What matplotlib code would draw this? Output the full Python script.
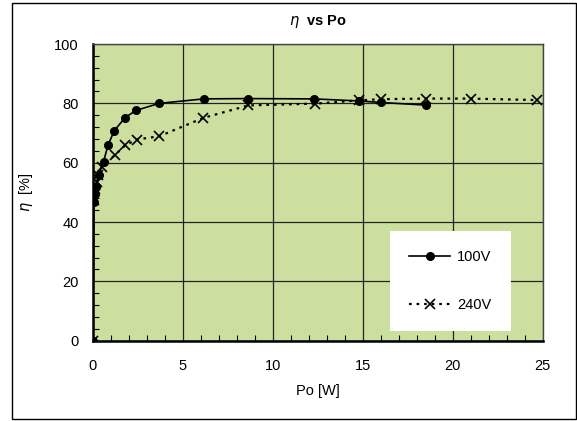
"""Efficiency vs output power, 100V and 240V input."""

import matplotlib.pyplot as plt
from matplotlib.patches import Rectangle
from matplotlib.ticker import MultipleLocator

plt.rcParams["font.family"] = ["Liberation Sans", "DejaVu Sans"]

# output power [W] and efficiency [%]
po_100v = [0.0, 0.07, 0.15, 0.2, 0.33, 0.6, 0.85, 1.2, 1.8, 2.4, 3.7,
           6.17, 8.6, 12.3, 14.8, 16.0, 18.5]
eta_100v = [0.0, 46.8, 49.6, 51.8, 55.8, 60.3, 65.9, 70.8, 75.2, 77.6, 80.0,
            81.5, 81.6, 81.5, 80.8, 80.3, 79.4]

po_240v = [0.0, 0.05, 0.12, 0.22, 0.3, 0.5, 1.22, 1.8, 2.44, 3.7,
           6.15, 8.65, 12.35, 14.8, 16.0, 18.5, 21.0, 24.7]
eta_240v = [0.0, 47.5, 51.0, 53.5, 56.0, 58.6, 62.5, 65.8, 67.8, 68.9,
            75.1, 79.3, 79.9, 81.0, 81.4, 81.6, 81.6, 81.1]

X_TICKS = [0, 5, 10, 15, 20, 25]
Y_TICKS = [0, 20, 40, 60, 80, 100]


def main() -> None:
    fig = plt.figure(figsize=(5.77, 4.21), dpi=100)
    ax = fig.add_axes([92.7 / 577, 1 - 340.7 / 421, 450 / 577, 296.7 / 421])
    ax.set_facecolor("#cddf9f")

    ax.plot(po_100v, eta_100v, color="black", lw=1.2, marker="o", ms=5.5,
            label="100V", zorder=4)
    ax.plot(po_240v, eta_240v, color="black", lw=1.6, ls=(0, (1.2, 2.2)),
            marker="x", ms=6.5, mew=1.2, label="240V", zorder=3)

    ax.set_xlim(0, 25)
    ax.set_ylim(0, 100)
    ax.set_xticks(X_TICKS)
    ax.set_yticks(Y_TICKS)
    ax.xaxis.set_minor_locator(MultipleLocator(1))
    ax.yaxis.set_minor_locator(MultipleLocator(4))
    ax.tick_params(which="both", direction="in", labelsize=10.5)
    ax.tick_params(which="major", length=0)
    ax.tick_params(which="minor", length=4, width=0.8)
    ax.tick_params(axis="x", pad=13)
    ax.tick_params(axis="y", pad=10)
    ax.grid(True, which="major", color="#222222", lw=0.9)
    ax.set_axisbelow(True)
    for side in ("left", "bottom"):
        ax.spines[side].set_linewidth(1.8)
    for side in ("top", "right"):
        ax.spines[side].set_linewidth(1.0)
        ax.spines[side].set_color("#444444")

    ax.set_title(r"$\mathit{\eta}$  vs Po", fontsize=10.5, fontweight="bold",
                 pad=14)
    ax.set_xlabel("Po [W]", fontsize=10.5, labelpad=8)
    ax.set_ylabel(r"$\mathit{\eta}$  [%]", fontsize=10.5, labelpad=14)

    leg = ax.legend(loc="lower left", bbox_to_anchor=(0.661, 0.033),
                    borderaxespad=0, frameon=True, fancybox=False,
                    framealpha=1, edgecolor="white", fontsize=10.5,
                    handlelength=2.8, labelspacing=2.3, borderpad=1.3,
                    handletextpad=0.5)
    leg.get_frame().set_linewidth(0)

    fig.patches.append(Rectangle((12 / 577, 2 / 421), 564 / 577, 416 / 421,
                                 transform=fig.transFigure, fill=False,
                                 edgecolor="black", lw=1.0))
    fig.savefig("out.png", dpi=100)


if __name__ == "__main__":
    main()
